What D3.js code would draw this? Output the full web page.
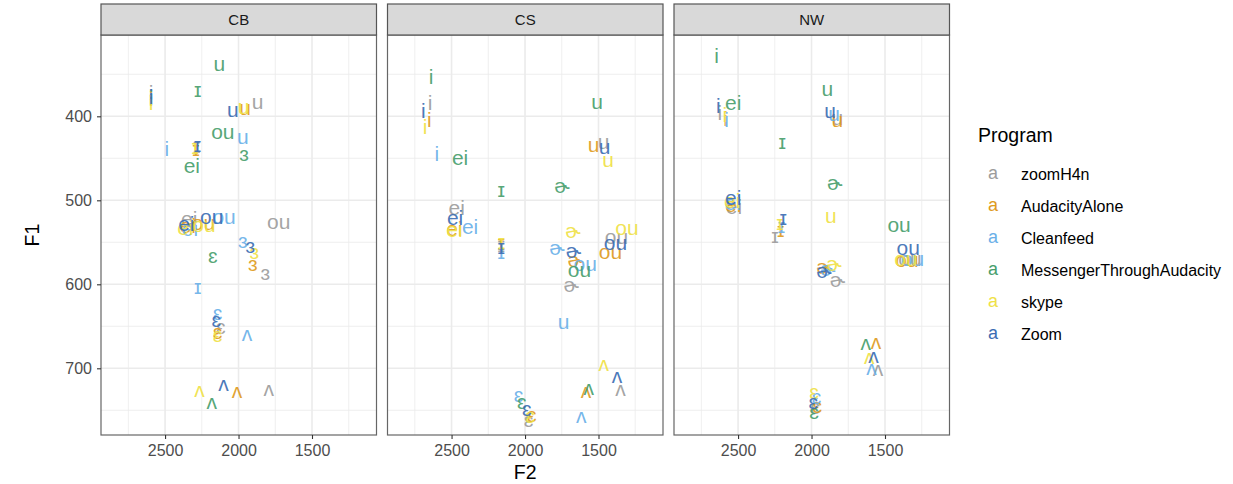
<!DOCTYPE html>
<html>
<head>
<meta charset="utf-8">
<script src="https://cdn.jsdelivr.net/npm/d3@7"></script>
<style>
  html, body { margin: 0; padding: 0; background: #fff; }
  svg { display: block; font-family: "Liberation Sans", Arial, Helvetica, sans-serif; }
</style>
</head>
<body>
<svg id="chart" width="1233" height="484"></svg>
<script>
// ---------- data ----------
const speakers = ["CB", "CS", "NW"];
const programs = ["zoomH4n", "AudacityAlone", "Cleanfeed", "MessengerThroughAudacity", "skype", "Zoom"];
const programColors = ["#9C9C9C", "#DE9B1E", "#6AB0E8", "#479E6C", "#EFE146", "#3B6DB3"];
// vowel columns; the 5th column is the r-coloured vowel (ɜ for CB, ɚ for CS/NW)
const vowelsCB = ["i", "ɪ", "ei", "ɛ", "ɜ", "ʌ", "u", "ou"];
const vowelsCS = ["i", "ɪ", "ei", "ɛ", "ɚ", "ʌ", "u", "ou"];
const vowelsNW = ["i", "ɪ", "ei", "ɛ", "ɚ", "ʌ", "u", "ou"];
const xTicks = [2500, 2000, 1500];
const yTicks = [400, 500, 600, 700];

// rows = programs (same order as `programs`), columns = vowels
const F2_CB = [
  [2595, 2285, 2336, 2120, 1818, 1795, 1871, 1727],
  [2595, 2290, 2345, 2143, 1902, 2011, 1955, 2239],
  [2488, 2277, 2330, 2143, 1970, 1943, 1970, 2098],
  [2595, 2277, 2318, 2175, 1962, 2182, 2130, 2107],
  [2595, 2295, 2362, 2143, 1893, 2266, 1966, 2235],
  [2595, 2280, 2355, 2152, 1920, 2102, 2039, 2182]
];
const F1_CB = [
  [371, 437, 521, 652, 588, 726, 385, 528],
  [379, 440, 530, 658, 577, 729, 392, 529],
  [438, 605, 533, 636, 550, 661, 426, 521],
  [378, 370, 459, 568, 447, 742, 339, 420],
  [384, 438, 532, 662, 563, 727, 390, 531],
  [376, 436, 528, 644, 556, 720, 394, 521]
];
const F2_CS = [
  [2647, 2162, 2465, 1976, 1685, 1351, 1465, 1378],
  [2651, 2162, 2481, 1953, 1658, 1585, 1533, 1419],
  [2601, 2162, 2374, 2044, 1783, 1617, 1738, 1590],
  [2640, 2162, 2442, 2021, 1749, 1567, 1510, 1629],
  [2681, 2160, 2480, 1965, 1674, 1465, 1435, 1306],
  [2692, 2162, 2476, 1987, 1670, 1374, 1458, 1385]
];
const F1_CS = [
  [383, 555, 508, 763, 602, 726, 432, 545],
  [404, 553, 533, 757, 573, 729, 436, 563],
  [444, 563, 531, 733, 558, 758, 646, 577],
  [353, 489, 449, 742, 484, 725, 385, 585],
  [412, 551, 535, 758, 538, 696, 454, 535],
  [393, 557, 520, 750, 562, 711, 438, 553]
];
const F2_NW = [
  [2624, 2249, 2528, 1975, 1824, 1547, 1824, 1330],
  [2585, 2210, 2533, 1960, 1915, 1562, 1824, 1350],
  [2578, 2205, 2535, 1965, 1890, 1592, 1847, 1312],
  [2647, 2199, 2533, 1983, 1842, 1631, 1892, 1404],
  [2590, 2215, 2540, 1983, 1847, 1608, 1869, 1358],
  [2635, 2192, 2533, 1987, 1915, 1578, 1874, 1342]
];
const F1_NW = [
  [395, 544, 507, 748, 597, 702, 404, 572],
  [402, 537, 505, 746, 581, 670, 406, 573],
  [404, 532, 502, 736, 583, 701, 399, 571],
  [327, 432, 383, 754, 481, 672, 369, 531],
  [398, 529, 500, 730, 578, 688, 520, 571],
  [387, 523, 496, 742, 586, 687, 395, 558]
];

const panelData = [
  { name: "CB", vowels: vowelsCB, f2: F2_CB, f1: F1_CB },
  { name: "CS", vowels: vowelsCS, f2: F2_CS, f1: F1_CS },
  { name: "NW", vowels: vowelsNW, f2: F2_NW, f1: F1_NW }
];

// ---------- layout ----------
const svg = d3.select("#chart");
const panelW = 275.5, panelTop = 35, panelH = 400, stripTop = 4;
const panelLefts = [101, 387.5, 674];
const tickFont = 16, titleFont = 19.5;

const x = d3.scaleLinear().domain([2936, 1061]).range([0, panelW]);
const y = d3.scaleLinear().domain([303.2, 779.4]).range([0, panelH]);

const minorX = [2750, 2250, 1750, 1250];
const minorY = [350, 450, 550, 650, 750];

function isTall(v) { return v === "i" || v === "ei"; }

panelData.forEach((p, pi) => {
  const g = svg.append("g").attr("transform", `translate(${panelLefts[pi]},${panelTop})`);
  g.append("rect").attr("width", panelW).attr("height", panelH).attr("fill", "#fff");
  // minor grid
  g.selectAll(".mgx").data(minorX).enter().append("line")
    .attr("x1", d => x(d)).attr("x2", d => x(d)).attr("y1", 0).attr("y2", panelH)
    .attr("stroke", "#EBEBEB").attr("stroke-width", 0.8);
  g.selectAll(".mgy").data(minorY).enter().append("line")
    .attr("y1", d => y(d)).attr("y2", d => y(d)).attr("x1", 0).attr("x2", panelW)
    .attr("stroke", "#EBEBEB").attr("stroke-width", 0.8);
  // major grid
  g.selectAll(".gx").data(xTicks).enter().append("line")
    .attr("x1", d => x(d)).attr("x2", d => x(d)).attr("y1", 0).attr("y2", panelH)
    .attr("stroke", "#EBEBEB").attr("stroke-width", 1.6);
  g.selectAll(".gy").data(yTicks).enter().append("line")
    .attr("y1", d => y(d)).attr("y2", d => y(d)).attr("x1", 0).attr("x2", panelW)
    .attr("stroke", "#EBEBEB").attr("stroke-width", 1.6);

  // points as text labels
  const pts = [];
  programs.forEach((prog, ri) => {
    p.vowels.forEach((v, ci) => {
      pts.push({ v, prog, color: programColors[ri], f2: p.f2[ri][ci], f1: p.f1[ri][ci] });
    });
  });
  g.selectAll(".pt").data(pts).enter().append("text")
    .attr("x", d => x(d.f2)).attr("y", d => y(d.f1))
    .attr("dy", d => isTall(d.v) ? "0.36em" : "0.27em")
    .attr("text-anchor", "middle")
    .attr("font-size", 21)
    .attr("fill", d => d.color)
    .attr("fill-opacity", 0.92)
    .text(d => d.v);

  // border
  g.append("rect").attr("width", panelW).attr("height", panelH)
    .attr("fill", "none").attr("stroke", "#666").attr("stroke-width", 1.2);

  // strip
  const s = svg.append("g").attr("transform", `translate(${panelLefts[pi]},${stripTop})`);
  s.append("rect").attr("width", panelW).attr("height", panelTop - stripTop)
    .attr("fill", "#D9D9D9").attr("stroke", "#555").attr("stroke-width", 1.2);
  s.append("text").attr("x", panelW / 2).attr("y", (panelTop - stripTop) / 2)
    .attr("dy", "0.35em").attr("text-anchor", "middle")
    .attr("font-size", 15).attr("fill", "#1A1A1A").text(p.name);

  // x axis
  const xa = svg.append("g").attr("transform", `translate(${panelLefts[pi]},${panelTop + panelH})`)
    .call(d3.axisBottom(x).tickValues(xTicks).tickSize(4).tickPadding(6).tickFormat(d3.format("d")));
  xa.select(".domain").remove();
  xa.selectAll(".tick line").attr("stroke", "#333").attr("stroke-width", 1.1);
  xa.selectAll(".tick text").attr("fill", "#4D4D4D").attr("font-size", tickFont)
    .attr("font-family", "Liberation Sans, Arial, sans-serif");
});

// y axis (left panel only)
const ya = svg.append("g").attr("transform", `translate(${panelLefts[0]},${panelTop})`)
  .call(d3.axisLeft(y).tickValues(yTicks).tickSize(4).tickPadding(5).tickFormat(d3.format("d")));
ya.select(".domain").remove();
ya.selectAll(".tick line").attr("stroke", "#333").attr("stroke-width", 1.1);
ya.selectAll(".tick text").attr("fill", "#4D4D4D").attr("font-size", tickFont)
  .attr("font-family", "Liberation Sans, Arial, sans-serif");

// axis titles
svg.append("text").attr("x", (panelLefts[0] + panelLefts[2] + panelW) / 2).attr("y", 472)
  .attr("dy", "0.35em").attr("text-anchor", "middle").attr("font-size", titleFont).attr("fill", "#000").text("F2");
svg.append("text").attr("transform", `translate(32,${panelTop + panelH / 2}) rotate(-90)`)
  .attr("dy", "0.35em").attr("text-anchor", "middle").attr("font-size", titleFont).attr("fill", "#000").text("F1");

// legend
const lg = svg.append("g");
lg.append("text").attr("x", 978).attr("y", 135).attr("dy", "0.35em")
  .attr("font-size", titleFont).attr("fill", "#000").text("Program");
const rowY = d3.scalePoint().domain(programs).range([174, 334]);
programs.forEach((prog, i) => {
  lg.append("text").attr("x", 993).attr("y", rowY(prog)).attr("dy", "0.27em")
    .attr("text-anchor", "middle").attr("font-size", 18).attr("fill", programColors[i]).text("a");
  lg.append("text").attr("x", 1021).attr("y", rowY(prog)).attr("dy", "0.35em")
    .attr("font-size", tickFont).attr("fill", "#000").text(prog);
});
</script>
</body>
</html>
